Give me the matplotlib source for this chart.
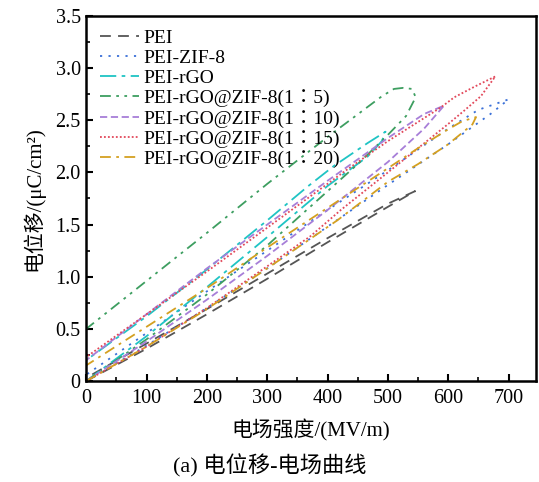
import numpy as np
import matplotlib.pyplot as plt
from matplotlib.ticker import MultipleLocator, FuncFormatter

plt.rcParams['font.family'] = ['Liberation Serif', 'Noto Sans CJK SC']

# D-E loops: charge branch (0 -> Emax) then discharge branch (Emax -> 0)
pei_charge_e = [0, 100, 200, 300, 400, 500, 545]
pei_charge_d = [0, 0.31, 0.64, 0.98, 1.33, 1.67, 1.82]
pei_dis_e = [545, 500, 400, 300, 200, 100, 0]
pei_dis_d = [1.82, 1.70, 1.37, 1.03, 0.69, 0.36, 0.03]

zif_charge_e = [0, 100, 200, 300, 400, 500, 600, 670, 700]
zif_charge_d = [0, 0.34, 0.70, 1.08, 1.48, 1.88, 2.27, 2.56, 2.70]
zif_dis_e = [700, 650, 600, 500, 400, 300, 200, 100, 0]
zif_dis_d = [2.70, 2.60, 2.42, 2.02, 1.64, 1.25, 0.86, 0.46, 0.06]

rgo_charge_e = [0, 100, 200, 300, 400, 466, 490, 496]
rgo_charge_d = [0, 0.43, 0.90, 1.38, 1.87, 2.15, 2.30, 2.39]
rgo_dis_e = [496, 466, 410, 366, 300, 200, 100, 0]
rgo_dis_d = [2.40, 2.28, 2.06, 1.86, 1.54, 1.07, 0.62, 0.20]

r5_charge_e = [0, 100, 200, 300, 400, 450, 500, 530, 546]
r5_charge_d = [0, 0.40, 0.83, 1.30, 1.82, 2.08, 2.36, 2.54, 2.72]
r5_dis_e = [546, 540, 525, 510, 490, 400, 300, 200, 100, 0]
r5_dis_d = [2.76, 2.80, 2.81, 2.80, 2.73, 2.34, 1.89, 1.42, 0.96, 0.50]

r10_charge_e = [0, 100, 200, 300, 400, 500, 560, 593]
r10_charge_d = [0, 0.38, 0.78, 1.20, 1.64, 2.10, 2.42, 2.64]
r10_dis_e = [593, 560, 500, 400, 300, 200, 100, 0]
r10_dis_d = [2.65, 2.56, 2.33, 1.92, 1.50, 1.08, 0.64, 0.20]

r15_charge_e = [0, 100, 200, 300, 372, 422, 500, 599, 626, 654, 678]
r15_charge_d = [0, 0.33, 0.70, 1.10, 1.39, 1.64, 2.00, 2.46, 2.59, 2.73, 2.92]
r15_dis_e = [678, 643, 610, 587, 500, 433, 300, 200, 100, 0]
r15_dis_d = [2.92, 2.82, 2.72, 2.62, 2.30, 2.03, 1.47, 1.05, 0.64, 0.23]

r20_charge_e = [0, 100, 200, 300, 416, 500, 550, 600, 640, 646]
r20_charge_d = [0, 0.33, 0.69, 1.08, 1.54, 1.91, 2.08, 2.27, 2.46, 2.53]
r20_dis_e = [646, 623, 599, 552, 500, 400, 300, 200, 100, 0]
r20_dis_d = [2.53, 2.49, 2.41, 2.24, 2.04, 1.66, 1.28, 0.89, 0.52, 0.15]

labels = ['PEI', 'PEI-ZIF-8', 'PEI-rGO', 'PEI-rGO@ZIF-8(1\uff1a5)',
          'PEI-rGO@ZIF-8(1\uff1a10)', 'PEI-rGO@ZIF-8(1\uff1a15)',
          'PEI-rGO@ZIF-8(1\uff1a20)']

series = [
    (pei_charge_e, pei_charge_d, pei_dis_e, pei_dis_d),
    (zif_charge_e, zif_charge_d, zif_dis_e, zif_dis_d),
    (rgo_charge_e, rgo_charge_d, rgo_dis_e, rgo_dis_d),
    (r5_charge_e, r5_charge_d, r5_dis_e, r5_dis_d),
    (r10_charge_e, r10_charge_d, r10_dis_e, r10_dis_d),
    (r15_charge_e, r15_charge_d, r15_dis_e, r15_dis_d),
    (r20_charge_e, r20_charge_d, r20_dis_e, r20_dis_d),
]

colors = ['#555555', '#3a70d8', '#1fc4c4', '#3d9e60', '#a77ed8', '#e2485a', '#d4a021']
dashes = [(6, 4), (1.2, 3.5), (9, 3, 2, 3), (6, 3, 1.5, 3, 1.5, 3),
          (4, 2), (1, 1.2), (6, 3, 1.5, 3)]

fig = plt.figure(figsize=(5.39, 4.82), dpi=100)
ax = fig.add_axes([0.160, 0.2095, 0.834, 0.7575])

for (ce, cd, de, dd), lab, c, ds in zip(series, labels, colors, dashes):
    e = list(ce) + list(de)[1:]
    d = list(cd) + list(dd)[1:]
    ax.plot(e, d, color=c, lw=1.3, dashes=ds, label=lab)

ax.set_xlim(0, 745)
ax.set_ylim(0, 3.5)
ax.xaxis.set_major_locator(MultipleLocator(100))
ax.xaxis.set_minor_locator(MultipleLocator(50))
ax.yaxis.set_major_locator(MultipleLocator(0.5))
ax.yaxis.set_minor_locator(MultipleLocator(0.25))
ax.yaxis.set_major_formatter(FuncFormatter(lambda v, p: '0' if v == 0 else f'{v:.1f}'))
ax.tick_params(which='major', direction='in', length=5, width=1.5, labelsize=14.5)
ax.tick_params(axis='x', which='major', pad=6)
ax.tick_params(axis='y', which='major', pad=4)
ax.tick_params(which='minor', direction='in', length=3, width=1.2)
for s in ax.spines.values():
    s.set_linewidth(1.8)

ax.set_xlabel('电场强度/(MV/m)', fontsize=15, labelpad=8)
ax.set_ylabel('电位移/(μC/cm²)', fontsize=15, labelpad=8)

ax.legend(loc='upper left', frameon=False, handlelength=2.0,
          labelspacing=0.12, handletextpad=0.25, borderaxespad=0.3,
          bbox_to_anchor=(0.0, 1.0),
          prop={'family': ['Liberation Serif', 'Noto Sans CJK TC'], 'size': 14})

fig.text(0.5, 0.02, '(a) 电位移-电场曲线', ha='center', fontsize=16)

fig.savefig('out.png', dpi=100)
